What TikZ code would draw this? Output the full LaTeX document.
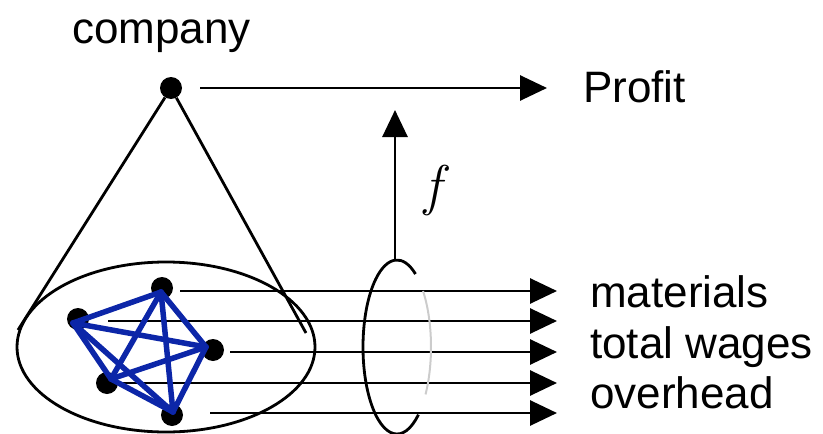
\documentclass[tikz,border=0pt]{standalone}
\usepackage{fontspec}
\setmainfont{Liberation Sans}
\newfontfamily\fvarfont{Latin Modern Roman}
\usetikzlibrary{arrows.meta, shapes.geometric, positioning}
\definecolor{netblue}{RGB}{12,38,168}
\tikzset{
  line/.style={line width=2.8pt},
  arr/.style={line, -{Triangle[length=27pt,width=25pt]}},
  dot/.style={circle, fill=black, inner sep=0pt, minimum size=22pt},
  lbl/.style={anchor=base west, inner sep=0pt, font=\fontsize{44}{50}\selectfont},
  link/.style={draw=netblue, line width=5.5pt, line cap=round}
}

\begin{document}
\begin{tikzpicture}[x=1pt, y=-1pt]
\useasboundingbox (0,0) rectangle (823,434);
% company and profit
\node[dot] (company) at (171,88) {};
\node[lbl] (comptext) at (72,43) {company};
\node[lbl] (profit) at (583,102) {Profit};
\coordinate (pstart) at (200,88);
\coordinate (pend) at (547,88);
\draw[arr] (pstart) -- (pend);
% cone over the firm
\node[draw, line, ellipse, minimum width=298pt, minimum height=170pt, inner sep=0pt] (firm) at (166,347) {};
\coordinate (coneL) at (18,330);
\coordinate (coneR) at (306,333);
\draw[line] (coneL) -- (company) -- (coneR);
% input arrows
\coordinate (tip) at (557,0);
\foreach \n/\x/\y in {1/180/291, 2/108/321, 3/230/352, 4/117/383, 5/210/413} {
  \coordinate (s\n) at (\x,\y);
  \draw[arr] (s\n) -- (s\n -| tip);
}
% employees
\node[dot] (v1) at (162,288) {};
\node[dot] (v2) at (78,319) {};
\node[dot] (v3) at (213,350) {};
\node[dot] (v4) at (107,383) {};
\node[dot] (v5) at (172,415) {};
\coordinate (b1) at (161,292);
\coordinate (b2) at (73,323);
\coordinate (b3) at (206,347);
\coordinate (b4) at (111,379);
\coordinate (b5) at (173,412);
\foreach \i/\j in {1/2, 1/3, 1/4, 1/5, 2/3, 2/4, 2/5, 3/4, 3/5, 4/5} {
  \draw[link] (b\i) -- (b\j);
}
% ring and f
\draw[line] (397,347) ++(51:34 and 87) arc[start angle=51, end angle=303, x radius=34, y radius=87];
\draw[line width=2pt, gray!40] (397,347) ++(-40:34 and 87) arc[start angle=-40, end angle=33, x radius=34, y radius=87];
\coordinate (ringtop) at (395,260);
\coordinate (ftip) at (395,110);
\draw[arr] (ringtop) -- (ftip);
\node[font=\fvarfont\itshape\fontsize{56}{60}\selectfont] (flbl) at (433,190) {f};
% labels
\node[lbl] (mat) at (590,307) {materials};
\node[lbl] (wage) at (590,358) {total wages};
\node[lbl] (over) at (590,408) {overhead};
\end{tikzpicture}
\end{document}
